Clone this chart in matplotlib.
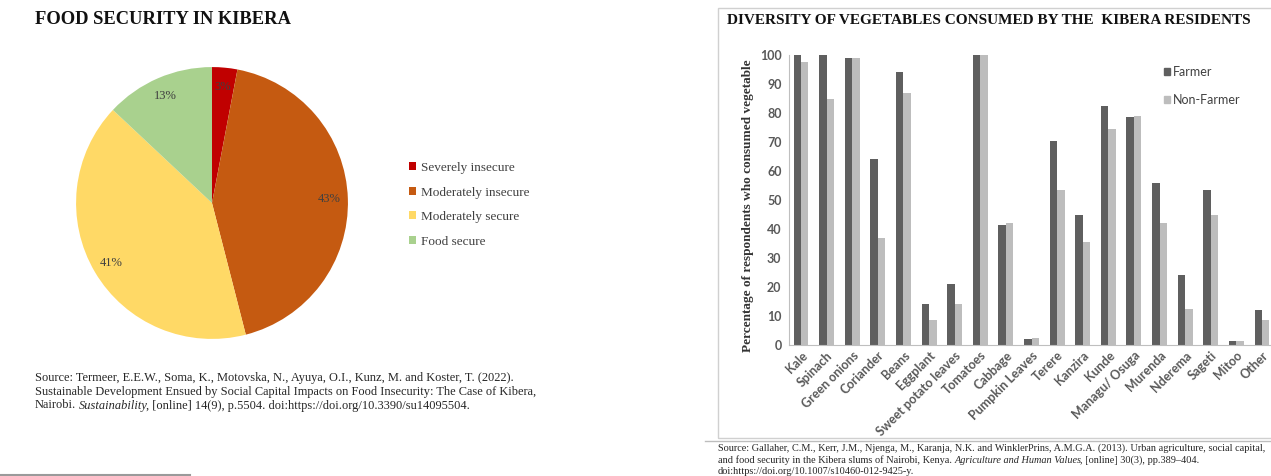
import matplotlib
matplotlib.use('Agg')
import matplotlib.pyplot as plt
from matplotlib.patches import Rectangle, Patch
from matplotlib.lines import Line2D
import numpy as np

W, H = 1271, 476

# food security shares (%)
status = ['Severely insecure', 'Moderately insecure', 'Moderately secure', 'Food secure']
status_share = [3, 43, 41, 13]
status_colors = ['#C00000', '#C55A11', '#FFD966', '#A9D18E']

# vegetables consumed (% of respondents)
vegetables = ['Kale', 'Spinach', 'Green onions', 'Coriander', 'Beans', 'Eggplant',
              'Sweet potato leaves', 'Tomatoes', 'Cabbage', 'Pumpkin Leaves', 'Terere',
              'Kanzira', 'Kunde', 'Managu/ Osuga', 'Murenda', 'Nderema', 'Sageti',
              'Mitoo', 'Other']
farmer = [100, 100, 99, 64, 94, 14, 21, 100, 41.5, 2, 70.5, 45, 82.5, 78.5, 56, 24, 53.5, 1.5, 12]
non_farmer = [97.5, 85, 99, 37, 87, 8.5, 14, 100, 42, 2.5, 53.5, 35.5, 74.5, 79, 42, 12.5, 45, 1.5, 8.5]

SERIF = 'Liberation Serif'
SANS = 'Lato'

fig = plt.figure(figsize=(W / 100, H / 100), dpi=100)


def px(x, y):
    return x / W, 1 - y / H


def box(left, top, w, h):
    return [left / W, 1 - (top + h) / H, w / W, h / H]


def write_line(x, y, parts, size, color='#262626'):
    # lay out pieces of one line on a shared baseline, upright or italic
    r = fig.canvas.get_renderer()
    gap = 0.25 * size * 100 / 72
    for s, style in parts:
        if s.startswith(' '):
            x += gap
            s = s.lstrip()
        t = fig.text(x / W, 1 - y / H, s, family=SERIF, style=style, size=size,
                     color=color, va='baseline')
        x += t.get_window_extent(r).width
        if style == 'italic':
            x -= 2


# ---- left: pie ----
fig.text(*px(35, 20), 'FOOD SECURITY IN KIBERA', family=SERIF, weight='bold',
         size=13.3, va='center', color='#111111')

ax1 = fig.add_axes(box(72, 63, 280, 280))
wedges, _, autotexts = ax1.pie(status_share, colors=status_colors, startangle=90,
                               counterclock=False, autopct='%.0f%%', pctdistance=0.86,
                               textprops=dict(family=SERIF, size=9, color='#404040'))
ax1.set_xlim(-1.03, 1.03)
ax1.set_ylim(-1.03, 1.03)
ax1.set_aspect('equal')
ax1.axis('off')

fig.legend(wedges, status, loc='upper left', bbox_to_anchor=px(409, 162),
           frameon=False, prop=dict(family=SERIF, size=9.5), labelcolor='#404040',
           handlelength=0.55, handleheight=0.55, handletextpad=0.35,
           labelspacing=0.95, borderpad=0, borderaxespad=0)

write_line(35, 380.5, [('Source: Termeer, E.E.W., Soma, K., Motovska, N., Ayuya, O.I., '
                        'Kunz, M. and Koster, T. (2022).', 'normal')], 8.9)
write_line(35, 394.5, [('Sustainable Development Ensued by Social Capital Impacts on Food '
                        'Insecurity: The Case of Kibera,', 'normal')], 8.9)
write_line(35, 408.5, [('Nairobi.', 'normal'), (' Sustainability', 'italic'),
                       (', [online] 14(9), p.5504. doi:https://doi.org/10.3390/su14095504.',
                        'normal')], 8.9)

fig.add_artist(Line2D([0, 190 / W], [1 - 474.5 / H] * 2, color='#9a9a9a', lw=1.5))

# ---- right: grouped bars ----
fig.add_artist(Rectangle((718 / W, 1 - 438 / H), (1290 - 718) / W, 430 / H,
                         transform=fig.transFigure, fill=False,
                         edgecolor='#D0D0D0', lw=1))
fig.add_artist(Line2D([705 / W, 1], [1 - 441 / H] * 2, color='#BDBDBD', lw=1))

fig.text(*px(727, 20), 'DIVERSITY OF VEGETABLES CONSUMED BY THE  KIBERA RESIDENTS',
         family=SERIF, weight='bold', size=11, va='center', color='#111111')

ax2 = fig.add_axes(box(788.5, 55, 486, 290))
x = np.arange(len(vegetables))
bw = 0.29
ax2.bar(x - bw / 2, farmer, bw, color='#5F5F5F', label='Farmer')
ax2.bar(x + bw / 2, non_farmer, bw, color='#BDBDBD', label='Non-Farmer')
ax2.set_xlim(-0.49, 18.49)
ax2.set_ylim(0, 100)
for side in ['top', 'right']:
    ax2.spines[side].set_visible(False)
for side in ['left', 'bottom']:
    ax2.spines[side].set_color('#BFBFBF')
ax2.set_yticks(range(0, 101, 10))
ax2.tick_params(axis='y', length=0, pad=5, labelsize=9, labelcolor='#595959')
for lab in ax2.get_yticklabels():
    lab.set_family(SANS)
    lab.set_fontweight('bold')
ax2.set_xticks(x)
ax2.set_xticklabels(vegetables, rotation=45, ha='right', rotation_mode='anchor',
                    family=SANS, size=9, color='#595959', fontweight='bold')
ax2.tick_params(axis='x', length=0, pad=3)
ax2.set_ylabel('Percentage of respondents who consumed vegetable', family=SERIF,
               fontweight='bold', size=9.5, color='#333333')
ax2.yaxis.set_label_coords(-0.07, 0.48)

fig.legend(handles=[Patch(color='#5F5F5F'), Patch(color='#BDBDBD')],
           labels=['Farmer', 'Non-Farmer'], loc='upper left',
           bbox_to_anchor=px(1164, 66), frameon=False,
           prop=dict(family=SANS, size=9), labelcolor='#404040',
           handlelength=0.5, handleheight=0.5, handletextpad=0.2,
           labelspacing=1.3, borderpad=0, borderaxespad=0)

write_line(718, 451, [('Source: Gallaher, C.M., Kerr, J.M., Njenga, M., Karanja, N.K. and '
                       'WinklerPrins, A.M.G.A. (2013). Urban agriculture, social capital,',
                       'normal')], 7.35)
write_line(718, 463, [('and food security in the Kibera slums of Nairobi, Kenya.', 'normal'),
                      (' Agriculture and Human Values', 'italic'),
                      (', [online] 30(3), pp.389\u2013404.', 'normal')], 7.35)
write_line(718, 473.5, [('doi:https://doi.org/10.1007/s10460-012-9425-y.', 'normal')], 7.35)

fig.savefig('out.png', dpi=100, facecolor='white')
